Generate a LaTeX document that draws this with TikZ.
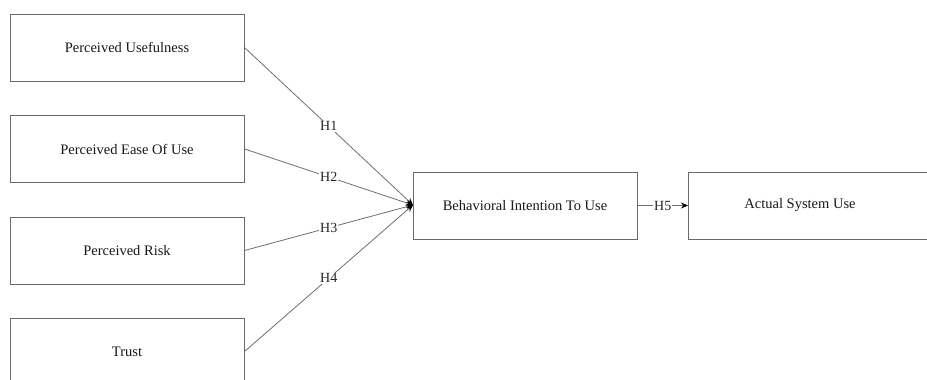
\documentclass[tikz,border=0pt]{standalone}
\usepackage{fontspec}
\setmainfont{Liberation Serif}
\usetikzlibrary{arrows.meta}
\definecolor{boxline}{HTML}{6A6A6A}
\definecolor{conline}{HTML}{6E6E6E}
\begin{document}
\begin{tikzpicture}[x=1pt,y=-1pt,
  box/.style={draw=boxline, line width=1pt, fill=white, minimum width=234pt, minimum height=67pt, inner sep=0pt, text=black!90, font=\fontsize{14.5}{17}\selectfont},
  txt/.style={inner sep=0pt, text=black!90, font=\fontsize{14.5}{17}\selectfont},
  con/.style={draw=conline, line width=0.8pt, -{Stealth[length=7pt,width=6pt,color=black]}},
  hyp/.style={fill=white, inner sep=1pt, font=\fontsize{14}{16}\selectfont, text=black!85}]
\useasboundingbox (0,0) rectangle (927,380);
\clip (0,0) rectangle (927,380);
\node[box] (pu) at (127,47.5) {Perceived Usefulness};
\node[box] (peou) at (127,149) {Perceived Ease Of Use};
\node[box] (pr) at (127,250.5) {Perceived Risk};
\node[box] (tr) at (127,351.5) {Trust};
\node[box, minimum width=224pt] (bi) at (525,205.5) {Behavioral Intention To Use};
\node[box, minimum width=252pt, anchor=west] (asu) at (688,205.5) {};
\node[txt] (asut) at (800,205.5) {Actual System Use};
\coordinate (bin) at (413,205);
\draw[con] (pu.east) -- node[hyp] (h1) {H1} (bin);
\draw[con] (peou.east) -- node[hyp] (h2) {H2} (bin);
\draw[con] (pr.east) -- node[hyp] (h3) {H3} (bin);
\draw[con] (tr.east) -- node[hyp] (h4) {H4} (bin);
\draw[con] (bi.east) -- node[hyp] (h5) {H5} (asu.west);
\end{tikzpicture}
\end{document}
